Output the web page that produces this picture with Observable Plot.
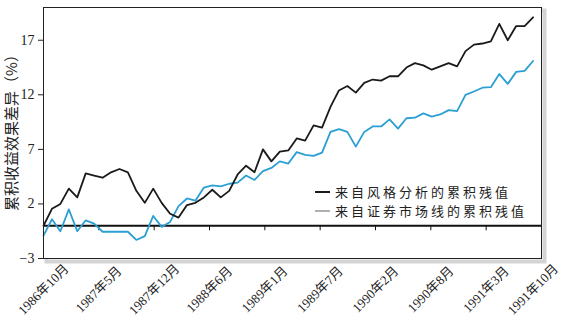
<!DOCTYPE html>
<html>
<head>
<meta charset="utf-8">
<script src="https://cdn.jsdelivr.net/npm/d3@7"></script>
<script src="https://cdn.jsdelivr.net/npm/@observablehq/plot@0.6"></script>
<style>
  html, body { margin: 0; padding: 0; background: #fff; }
  #chart svg { display: block; }
</style>
</head>
<body>
<div id="chart"></div>
<script>
// Monthly cumulative residuals, 1986年10月 onward (%)
const styleResidual = [
  0, 1.55, 2.0, 3.4, 2.6, 4.8, 4.6, 4.4, 4.9, 5.2,
  4.9, 3.2, 2.1, 3.4, 2.1, 1.1, 0.75, 1.9, 2.1, 2.6,
  3.3, 2.6, 3.2, 4.7, 5.5, 4.9, 7.0, 5.9, 6.8, 6.9,
  8.0, 7.8, 9.2, 9.0, 10.9, 12.4, 12.8, 12.2, 13.1, 13.4,
  13.3, 13.7, 13.7, 14.5, 14.9, 14.7, 14.3, 14.6, 14.9, 14.6,
  16.0, 16.6, 16.7, 16.9, 18.5, 17.0, 18.3, 18.3, 19.1
];
const smlResidual = [
  -0.9, 0.6, -0.5, 1.5, -0.5, 0.5, 0.2, -0.55, -0.55, -0.55,
  -0.55, -1.3, -0.95, 0.9, -0.1, 0.35, 1.8, 2.5, 2.3, 3.5,
  3.7, 3.6, 3.85, 3.95, 4.6, 4.2, 5.0, 5.3, 5.9, 5.7,
  6.75, 6.5, 6.4, 6.7, 8.6, 8.85, 8.6, 7.25, 8.6, 9.1,
  9.1, 9.75, 8.9, 9.85, 9.9, 10.3, 10.0, 10.2, 10.6, 10.5,
  12.0, 12.3, 12.65, 12.7, 13.9, 13.0, 14.1, 14.2, 15.1
];
const xTickLabels = [
  "1986年10月", "1987年5月", "1987年12月", "1988年6月", "1989年1月",
  "1989年7月", "1990年2月", "1990年8月", "1991年3月", "1991年10月"
];
const yTicks = [-3, 2, 7, 12, 17];
const seriesNames = ["来自风格分析的累积残值", "来自证券市场线的累积残值"];
const seriesColors = ["#1a1a1a", "#2b9fd3"];
const legendSwatchColors = ["#1a1a1a", "#b0b0b0"];
const yLabel = "累积收益效果差异（%）";

const n = styleResidual.length;
const xMax = n; // axis spans one step beyond last month
const step = xMax / (xTickLabels.length - 1);
// label positions: evenly spaced, the last one sits on the final month
const labelPos = xTickLabels.map((_, i) => i < xTickLabels.length - 1 ? i * step : n - 1);
const tickPos = labelPos.slice(1, -1);
const labelFor = d => xTickLabels[labelPos.findIndex(p => Math.abs(p - d) < 1e-6)];

const serif = "'Liberation Serif', 'Noto Sans CJK SC', serif";
const cjk = "'Noto Sans CJK SC', 'Liberation Serif', sans-serif";

function legendMark(index, scales, values, dimensions) {
  const {width, marginRight, height, marginBottom} = dimensions;
  const right = width - marginRight;
  const bottom = height - marginBottom;
  const g = d3.create("svg:g");
  const x0 = right - 226, y0 = bottom - 66, rowH = 19;
  seriesNames.forEach((name, k) => {
    const y = y0 + k * rowH;
    g.append("line")
      .attr("x1", x0).attr("x2", x0 + 15)
      .attr("y1", y).attr("y2", y)
      .attr("stroke", legendSwatchColors[k]).attr("stroke-width", 2);
    g.append("text")
      .attr("x", x0 + 20).attr("y", y)
      .attr("dy", "0.35em")
      .attr("text-anchor", "start")
      .attr("font-family", cjk)
      .attr("font-size", 13)
      .attr("letter-spacing", "3px")
      .attr("fill", "#222")
      .text(name);
  });
  return g.node();
}

const chart = Plot.plot({
  width: 566,
  height: 322,
  marginLeft: 43,
  marginRight: 25,
  marginTop: 7,
  marginBottom: 64,
  style: {fontFamily: serif, fontSize: "14px", background: "#fff", color: "#222", overflow: "visible"},
  x: {domain: [0, xMax]},
  y: {domain: [-3, 20]},
  marks: [
    Plot.frame({stroke: "#d4d4d4", strokeWidth: 4, dx: 3, dy: 3}),
    Plot.frame({fill: "white", stroke: null}),
    Plot.ruleY([0], {stroke: "#111", strokeWidth: 2}),
    Plot.ruleX(tickPos, {x: d => d, y1: 0, y2: -0.46, stroke: "#111", strokeWidth: 1}),
    Plot.lineY(smlResidual, {stroke: seriesColors[1], strokeWidth: 1.8}),
    Plot.lineY(styleResidual, {stroke: seriesColors[0], strokeWidth: 1.8}),
    Plot.frame({stroke: "#222", strokeWidth: 1}),
    Plot.axisY(yTicks, {
      tickSize: 5, tickPadding: 4, label: null, fontSize: 14,
      tickFormat: d => d < 0 ? "−" + Math.abs(d) : String(d)
    }),
    Plot.axisX(labelPos, {
      tickSize: 0, tickPadding: 0, label: null, fontSize: 13,
      tickRotate: -45, textAnchor: "middle", lineAnchor: "middle", dy: 31,
      tickFormat: labelFor
    }),
    Plot.text([yLabel], {
      text: d => d, frameAnchor: "left", textAnchor: "middle", lineAnchor: "middle",
      rotate: -90, dx: -31, dy: -4,
      fontSize: 15, fontFamily: cjk, fill: "#222"
    }),
    legendMark
  ]
});

document.getElementById("chart").appendChild(chart);
</script>
</body>
</html>
